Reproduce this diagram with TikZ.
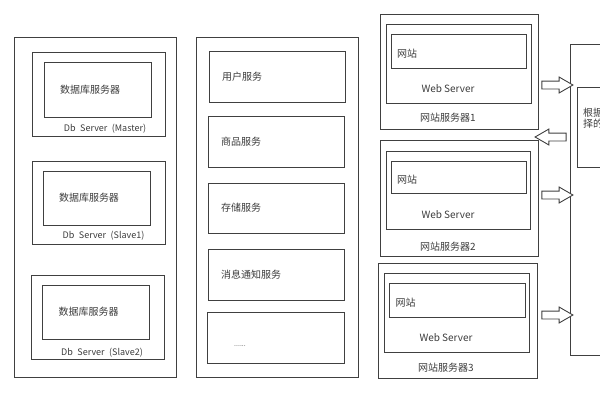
\documentclass[tikz,border=0pt]{standalone}
\usepackage{fontspec}
\setmainfont{Noto Sans CJK SC}
\usetikzlibrary{shapes.arrows,calc}
\definecolor{linegray}{RGB}{64,64,64}
\definecolor{textgray}{RGB}{60,60,60}

\begin{document}
\begin{tikzpicture}[x=1pt, y=-1pt,
  box/.style={draw=linegray, line width=1pt, rectangle, inner sep=0pt},
  dbinner/.style={box, inner xsep=16pt, text width=75pt, align=left, minimum width=107pt, font=\fontsize{10}{11}\selectfont, text=textgray},
  svcbox/.style={box, inner xsep=13pt, text width=110pt, align=left, minimum width=136pt, minimum height=51pt, font=\fontsize{10}{11}\selectfont, text=textgray},
  siteinner/.style={box, inner xsep=6pt, text width=123pt, align=left, minimum width=135pt, minimum height=34pt, text height=14pt, font=\fontsize{10}{11}\selectfont, text=textgray},
  caption/.style={inner sep=0pt, font=\fontsize{9}{10}\selectfont, text=textgray},
  webtext/.style={inner sep=0pt, font=\fontsize{10}{11}\selectfont, text=textgray},
  hollow arrow/.style={single arrow, draw=linegray, line width=0.9pt, fill=white, inner sep=3.5pt, minimum width=15pt, minimum height=31pt, single arrow head extend=4pt, single arrow tip angle=60}]
 \useasboundingbox (0,0) rectangle (600,400);
 \clip (0,0) rectangle (600,400);

 % database servers
 \node[box, minimum width=162pt, minimum height=340pt] (dbgroup) at (95,207) {};
 \node[box, minimum width=133pt, minimum height=84pt] (db1) at (98.5,94) {};
 \node[dbinner, minimum height=55pt] (db1in) at (97.5,89.5) {数据库服务器};
 \node[caption] (db1cap) at (105,129) {Db\enspace Server\enspace(Master)};
 \node[box, minimum width=133pt, minimum height=83pt] (db2) at (98.5,202.5) {};
 \node[dbinner, minimum height=54pt] (db2in) at (96.5,198) {数据库服务器};
 \node[caption] (db2cap) at (103.5,236) {Db\enspace Server\enspace(Slave1)};
 \node[box, minimum width=133pt, minimum height=84pt] (db3) at (97.5,317) {};
 \node[dbinner, minimum height=54pt] (db3in) at (96,312) {数据库服务器};
 \node[caption] (db3cap) at (102,353) {Db\enspace Server\enspace(Slave2)};

 % services
 \node[box, minimum width=162pt, minimum height=340pt] (svcgroup) at (277,207) {};
 \node[svcbox] (usersvc) at (277,76.5) {用户服务};
 \node[svcbox] (goodssvc) at (276,141.5) {商品服务};
 \node[svcbox, minimum height=50pt] (storesvc) at (276,208) {存储服务};
 \node[svcbox] (msgsvc) at (276,274.5) {消息通知服务};
 \node[svcbox, minimum width=137pt] (moresvc) at (275.5,337.5) {};
 \node[caption, font=\scriptsize] (moredots) at (240,346) {......};

 % web servers
 \node[box, minimum width=158pt, minimum height=115pt] (ws1) at (459,71.5) {};
 \node[box, minimum width=145pt, minimum height=79pt] (ws1mid) at (458.5,63.5) {};
 \node[siteinner] (ws1in) at (458.5,51) {网站};
 \node[webtext] (ws1web) at (448,89) {Web Server};
 \node[webtext] (ws1cap) at (448,118) {网站服务器1};

 \node[box, minimum width=158pt, minimum height=116pt] (ws2) at (459,198) {};
 \node[box, minimum width=144pt, minimum height=78pt] (ws2mid) at (458,190) {};
 \node[siteinner, minimum height=32pt] (ws2in) at (458.5,177) {网站};
 \node[webtext] (ws2web) at (448,215) {Web Server};
 \node[webtext] (ws2cap) at (448,247) {网站服务器2};

 \node[box, minimum width=159pt, minimum height=115pt] (ws3) at (457.5,320.5) {};
 \node[box, minimum width=145pt, minimum height=79pt] (ws3mid) at (456.5,312.5) {};
 \node[siteinner, minimum width=136pt] (ws3in) at (457,300) {网站};
 \node[webtext] (ws3web) at (446,338) {Web Server};
 \node[webtext] (ws3cap) at (446,368) {网站服务器3};

 % balancer (cut off at the right edge)
 \node[box, minimum width=100pt, minimum height=311pt] (lb) at (620,199.5) {};
 \node[box, minimum width=80pt, minimum height=80pt] (lbin) at (617,127) {};
 \node[caption, anchor=west, align=left, font=\fontsize{10}{11}\selectfont] (lbtext) at (583,118.5) {根据\\择的};

 % arrows between web servers and balancer
 \coordinate (gap) at ($(ws1.east)!.5!(lb.west)$);
 \node[hollow arrow] (toLb1) at (gap |- 0,85) {};
 \node[hollow arrow, shape border rotate=180] (fromLb) at (gap |- 0,137) {};
 \node[hollow arrow] (toLb2) at (gap |- 0,195) {};
 \node[hollow arrow] (toLb3) at (gap |- 0,315) {};
\end{tikzpicture}
\end{document}
